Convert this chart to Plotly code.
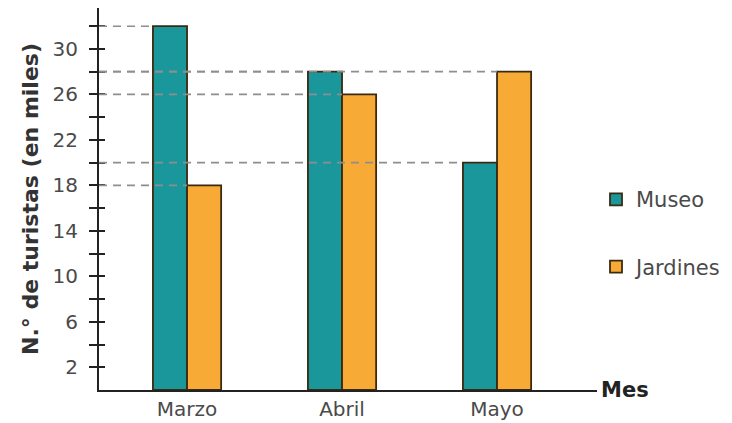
import plotly.graph_objects as go

months = ["Marzo", "Abril", "Mayo"]
museo = [32, 28, 20]
jardines = [18, 26, 28]
y_labeled = [2, 6, 10, 14, 18, 22, 26, 30]
y_minor = [4, 8, 12, 16, 20, 24, 28, 32]

TEAL = "#19979a"
ORANGE = "#f7aa35"
EDGE = "#3b2a12"
BAR_W = 0.22
X_MIN, X_MAX = -0.568, 2.645
Y_MAX = 33.6
FONT = "DejaVu Sans, Liberation Sans, Arial, sans-serif"

xs = list(range(len(months)))

fig = go.Figure()
fig.add_trace(go.Bar(x=xs, y=museo, name="Museo", width=BAR_W, offset=-BAR_W,
                     marker=dict(color=TEAL, line=dict(color=EDGE, width=1.8)),
                     legendgroup="m"))
fig.add_trace(go.Bar(x=xs, y=jardines, name="Jardines", width=BAR_W, offset=0,
                     marker=dict(color=ORANGE, line=dict(color=EDGE, width=1.8)),
                     legendgroup="j"))

# dashed reference lines from axis to the left edge of each bar
for i in xs:
    for val, off in ((museo[i], -BAR_W), (jardines[i], 0)):
        fig.add_shape(type="line", xref="x", yref="y", x0=X_MIN, x1=i + off,
                      y0=val, y1=val, layer="above",
                      line=dict(color="#8e8e8e", width=1.6, dash="8px,6px"))

ticks = sorted(y_labeled + y_minor)
ticktext = [str(v) if v in y_labeled else "" for v in ticks]

# the page adds an 8px body margin, so the figure is 8px smaller on each axis
fig.update_layout(
    width=724, height=415,
    margin=dict(l=91, r=135, t=0, b=33, autoexpand=False),
    paper_bgcolor="white", plot_bgcolor="white",
    font=dict(family=FONT, size=20, color="#4a4a4a"),
    showlegend=True,
    legend=dict(x=0.998, y=0.552, xanchor="left", yanchor="top",
                tracegroupgap=37, font=dict(size=21, color="#4a4a4a"),
                bgcolor="rgba(0,0,0,0)"),
    xaxis=dict(range=[X_MIN, X_MAX], tickvals=xs, ticktext=months,
               showline=True, linecolor="#222", linewidth=2, showgrid=False,
               zeroline=False, ticks="", ticklabelstandoff=0, fixedrange=True,
               tickfont=dict(size=20)),
    yaxis=dict(range=[0, Y_MAX], tickvals=ticks, ticktext=ticktext,
               showline=True, linecolor="#222", linewidth=2, showgrid=False,
               zeroline=False, ticks="outside", ticklen=8, tickwidth=1.5,
               tickcolor="#222", ticklabelstandoff=7, tickfont=dict(size=20),
               title=dict(text="<b>N.° de turistas (en miles)</b>",
                          font=dict(size=22, color="#333"), standoff=8)),
    yaxis2=dict(range=[0, Y_MAX], overlaying="y", side="left", tickvals=ticks,
                showticklabels=False, ticks="inside", ticklen=6, tickwidth=1.5,
                tickcolor="#222", showgrid=False, zeroline=False, showline=False),
)
# invisible trace to activate yaxis2 (inside ticks)
fig.add_trace(go.Scatter(x=[xs[0]], y=[0], yaxis="y2", mode="markers",
                         marker=dict(opacity=0), showlegend=False, hoverinfo="skip"))

fig.add_annotation(text="<b>Mes</b>", xref="paper", yref="y", x=1.0, y=0,
                   xanchor="left", yanchor="middle", showarrow=False, xshift=2,
                   font=dict(size=21, color="#222"))

fig.write_html("out.html")
